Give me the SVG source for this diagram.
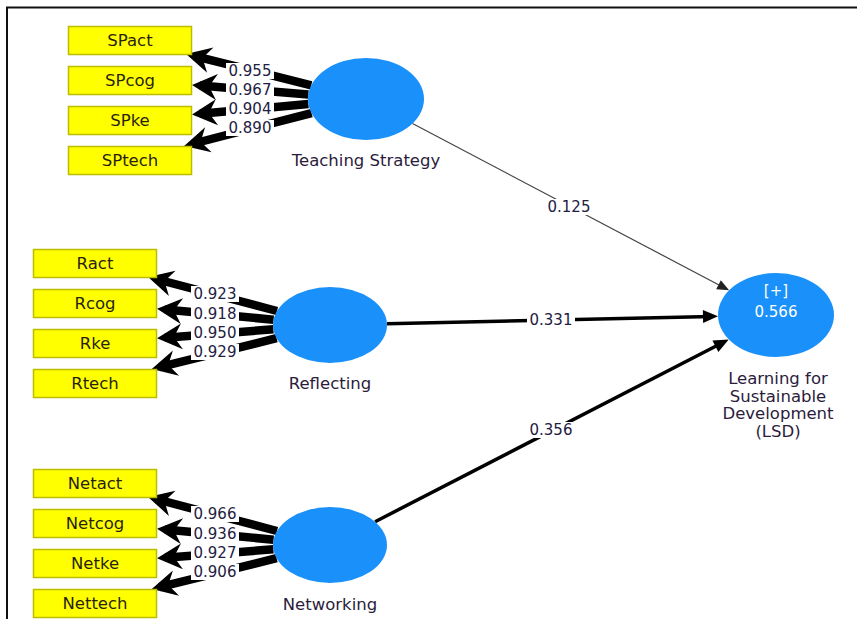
<svg xmlns="http://www.w3.org/2000/svg" width="857" height="619" viewBox="0 0 857 619">
  <style>
    .ind rect { fill: #ffff00; stroke: #bcbc00; stroke-width: 1.5; }
    .ind text { font-family: "DejaVu Sans", Verdana, sans-serif; font-size: 16.5px; fill: #2a1f10; text-anchor: middle; }
    .lv ellipse { fill: #1990fa; }
    .name { font-family: "DejaVu Sans", Verdana, sans-serif; font-size: 16.5px; fill: #2b1c3c; text-anchor: middle; }
    .inner { font-family: "DejaVu Sans", Verdana, sans-serif; font-size: 15px; fill: #ffffff; text-anchor: middle; }
    .load { stroke: #000; stroke-width: 8.5; fill: none; marker-end: url(#bigHead); }
    .path { stroke: #000; stroke-width: 3.5; fill: none; marker-end: url(#head); }
    .thin { stroke: #444; stroke-width: 1.2; fill: none; marker-end: url(#smallHead); }
    .lbl rect { fill: #ffffff; }
    .lbl text { font-family: "DejaVu Sans", Verdana, sans-serif; font-size: 15px; fill: #23203f; text-anchor: middle; }
  </style>
  <defs>
    <marker id="bigHead" markerUnits="userSpaceOnUse" viewBox="-19 -14 30 28" refX="0" refY="0" markerWidth="30" markerHeight="28" orient="auto">
      <path d="M8,0 L-17,-13 L-9,0 L-17,13 Z" fill="#000"/>
    </marker>
    <marker id="head" markerUnits="userSpaceOnUse" viewBox="-10 -8 18 16" refX="0" refY="0" markerWidth="18" markerHeight="16" orient="auto">
      <path d="M6,0 L-9,-6.5 L-9,6.5 Z" fill="#000"/>
    </marker>
    <marker id="smallHead" markerUnits="userSpaceOnUse" viewBox="-8 -6 14 12" refX="0" refY="0" markerWidth="14" markerHeight="12" orient="auto">
      <path d="M5,0 L-7,-5 L-7,5 Z" fill="#222"/>
    </marker>
  </defs>

  <rect width="857" height="619" fill="#ffffff"/>
  <!-- frame -->
  <path d="M7,619 V7.5 H857" fill="none" stroke="#111" stroke-width="2"/>

  <g id="connectors">
    <!-- outer loadings: Teaching Strategy -->
    <line class="load" x1="311.3" y1="85.3" x2="193.8" y2="55.9"/>
    <line class="load" x1="308.4" y1="94.4" x2="200.0" y2="85.6"/>
    <line class="load" x1="308.4" y1="104.1" x2="200.0" y2="113.8"/>
    <line class="load" x1="311.6" y1="113.1" x2="191.9" y2="144.0"/>
    <!-- outer loadings: Reflecting -->
    <line class="load" x1="277.0" y1="311.0" x2="155.8" y2="279.0"/>
    <line class="load" x1="273.6" y1="319.7" x2="165.0" y2="309.5"/>
    <line class="load" x1="273.4" y1="329.3" x2="165.0" y2="337.7"/>
    <line class="load" x1="276.6" y1="338.2" x2="159.5" y2="367.1"/>
    <!-- outer loadings: Networking -->
    <line class="load" x1="277.0" y1="531.0" x2="155.8" y2="499.0"/>
    <line class="load" x1="273.6" y1="539.7" x2="165.0" y2="529.5"/>
    <line class="load" x1="273.4" y1="549.3" x2="165.0" y2="557.7"/>
    <line class="load" x1="276.6" y1="558.2" x2="159.5" y2="587.1"/>
    <!-- structural paths -->
    <line class="thin" x1="412.5" y1="123.5" x2="724.7" y2="288.0"/>
    <line class="path" x1="387" y1="323.7" x2="712" y2="316.4"/>
    <line class="path" x1="375.1" y1="521.7" x2="723.4" y2="342.2"/>

    <!-- coefficient labels -->
    <g class="lbl">
      <rect x="226" y="63" width="48" height="16"/><text x="250" y="76">0.955</text>
      <rect x="226" y="82" width="48" height="16"/><text x="250" y="95">0.967</text>
      <rect x="226" y="101" width="48" height="16"/><text x="250" y="114">0.904</text>
      <rect x="226" y="120" width="48" height="16"/><text x="250" y="133">0.890</text>

      <rect x="191" y="286" width="48" height="16"/><text x="215" y="299">0.923</text>
      <rect x="191" y="305.5" width="48" height="16"/><text x="215" y="318.5">0.918</text>
      <rect x="191" y="325" width="48" height="16"/><text x="215" y="338">0.950</text>
      <rect x="191" y="344" width="48" height="16"/><text x="215" y="357">0.929</text>

      <rect x="191" y="506" width="48" height="16"/><text x="215" y="519">0.966</text>
      <rect x="191" y="525.5" width="48" height="16"/><text x="215" y="538.5">0.936</text>
      <rect x="191" y="545" width="48" height="16"/><text x="215" y="558">0.927</text>
      <rect x="191" y="564" width="48" height="16"/><text x="215" y="577">0.906</text>

      <rect x="545" y="199" width="48" height="16"/><text x="569" y="212">0.125</text>
      <rect x="527" y="312" width="48" height="16"/><text x="551" y="325">0.331</text>
      <rect x="527" y="422" width="48" height="16"/><text x="551" y="435">0.356</text>
    </g>
  </g>

  <!-- indicators -->
  <g id="SPact" class="ind"><rect x="68.5" y="26.5" width="123" height="28"/><text x="130" y="46">SPact</text></g>
  <g id="SPcog" class="ind"><rect x="68.5" y="66.5" width="123" height="28"/><text x="130" y="86">SPcog</text></g>
  <g id="SPke" class="ind"><rect x="68.5" y="106.5" width="123" height="28"/><text x="130" y="126">SPke</text></g>
  <g id="SPtech" class="ind"><rect x="68.5" y="146.5" width="123" height="28"/><text x="130" y="166">SPtech</text></g>

  <g id="Ract" class="ind"><rect x="33.5" y="249.5" width="123" height="28"/><text x="95" y="269">Ract</text></g>
  <g id="Rcog" class="ind"><rect x="33.5" y="289.5" width="123" height="28"/><text x="95" y="309">Rcog</text></g>
  <g id="Rke" class="ind"><rect x="33.5" y="329.5" width="123" height="28"/><text x="95" y="349">Rke</text></g>
  <g id="Rtech" class="ind"><rect x="33.5" y="369.5" width="123" height="28"/><text x="95" y="389">Rtech</text></g>

  <g id="Netact" class="ind"><rect x="33.5" y="469.5" width="123" height="28"/><text x="95" y="489">Netact</text></g>
  <g id="Netcog" class="ind"><rect x="33.5" y="509.5" width="123" height="28"/><text x="95" y="529">Netcog</text></g>
  <g id="Netke" class="ind"><rect x="33.5" y="549.5" width="123" height="28"/><text x="95" y="569">Netke</text></g>
  <g id="Nettech" class="ind"><rect x="33.5" y="589.5" width="123" height="28"/><text x="95" y="609">Nettech</text></g>

  <!-- latent variables -->
  <g id="TeachingStrategy" class="lv">
    <ellipse cx="366" cy="99" rx="58" ry="41"/>
    <text class="name" x="366" y="166">Teaching Strategy</text>
  </g>
  <g id="Reflecting" class="lv">
    <ellipse cx="330" cy="325" rx="57" ry="38"/>
    <text class="name" x="330" y="389">Reflecting</text>
  </g>
  <g id="Networking" class="lv">
    <ellipse cx="330" cy="545" rx="57" ry="38"/>
    <text class="name" x="330" y="610">Networking</text>
  </g>
  <g id="LSD" class="lv">
    <ellipse cx="776" cy="315" rx="58" ry="42"/>
    <text class="inner" x="776" y="296">[+]</text>
    <text class="inner" x="776" y="317">0.566</text>
    <text class="name" x="778" y="384">Learning for</text>
    <text class="name" x="778" y="401.5">Sustainable</text>
    <text class="name" x="778" y="419">Development</text>
    <text class="name" x="778" y="436.5">(LSD)</text>
  </g>
</svg>
